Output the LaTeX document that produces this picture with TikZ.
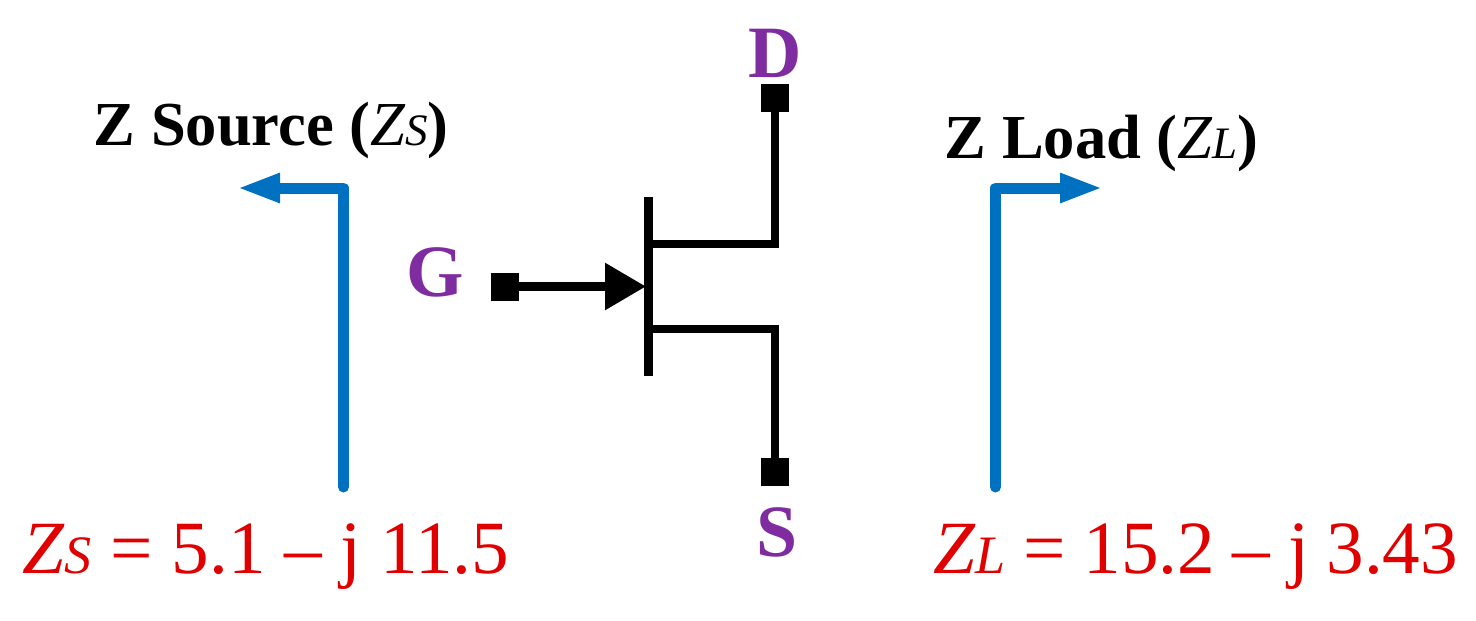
\documentclass[tikz,border=0pt]{standalone}
\usepackage{fontspec}
\setmainfont{Liberation Serif}
\usetikzlibrary{arrows.meta}
\definecolor{zblue}{HTML}{0070C0}
\definecolor{zred}{HTML}{E00000}
\definecolor{zpurple}{HTML}{7F2CA0}
\newcommand{\valZ}[2]{{\itshape Z\fontsize{15.4}{18}\selectfont #1} = #2}
\begin{document}
\begin{tikzpicture}[>=stealth,
	term/.style={draw=none, fill=black, minimum size=0.28cm, inner sep=0pt, outer sep=0pt},
	lead/.style={line width=0.085cm, black, miter limit=10},
	look/.style={line width=0.11cm, zblue, line cap=round, line join=round, -{Triangle[length=0.43cm, width=0.27cm]}},
	pin/.style={text=zpurple, font=\fontsize{21}{24}\selectfont\bfseries, inner sep=0pt, anchor=base},
	head/.style={font=\fontsize{17.8}{22}\selectfont, inner sep=0pt, anchor=base west},
	val/.style={text=zred, font=\fontsize{21.4}{26}\selectfont, inner sep=0pt, anchor=base west}]
	\useasboundingbox (0,0) rectangle (14.76,6.2);
	\node[term] (d) at (7.75,5.22) {};
	\node[term] (g) at (5.05,3.335) {};
	\node[term] (s) at (7.75,1.48) {};
	\coordinate (stemtop) at (6.485,4.23);
	\coordinate (stembot) at (6.485,2.44);
	\coordinate (gatetip) at (6.46,3.335);
	\coordinate (dknee) at (6.485,3.76);
	\coordinate (sknee) at (6.485,2.91);
	\draw[lead, line width=0.09cm] (stemtop) -- (stembot);
	\draw[lead] (dknee) -- (d |- dknee) -- (d);
	\draw[lead] (sknee) -- (s |- sknee) -- (s);
	\draw[lead, line width=0.09cm, -{Triangle[length=0.41cm, width=0.45cm]}] (g) -- (gatetip);
	\node[pin] (dlabel) at (7.75,5.43) {D};
	\node[pin] (glabel) at (4.35,3.24) {G};
	\node[pin] (slabel) at (7.77,0.64) {S};
	\coordinate (lsbot) at (3.435,1.33);
	\coordinate (lstop) at (3.435,4.32);
	\coordinate (lstip) at (2.37,4.32);
	\draw[look] (lsbot) -- (lstop) -- (lstip);
	\coordinate (lrbot) at (9.955,1.33);
	\coordinate (lrtop) at (9.955,4.32);
	\coordinate (lrtip) at (11.03,4.32);
	\draw[look] (lrbot) -- (lrtop) -- (lrtip);
	\node[head] (zsource) at (0.93,4.75) {\textbf{Z Source (}{\itshape Z\fontsize{12.8}{14}\selectfont S}\textbf{)}};
	\node[head] (zload) at (9.44,4.62) {\textbf{Z Load (}{\itshape Z\fontsize{12.8}{14}\selectfont L}\textbf{)}};
	\node[val] (zsval) at (0.22,0.47) {\valZ{S}{5.1 – j 11.5}};
	\node[val] (zlval) at (9.33,0.47) {\spaceskip=0.235em\valZ{L}{15.2 – j 3.43}};
\end{tikzpicture}
\end{document}
